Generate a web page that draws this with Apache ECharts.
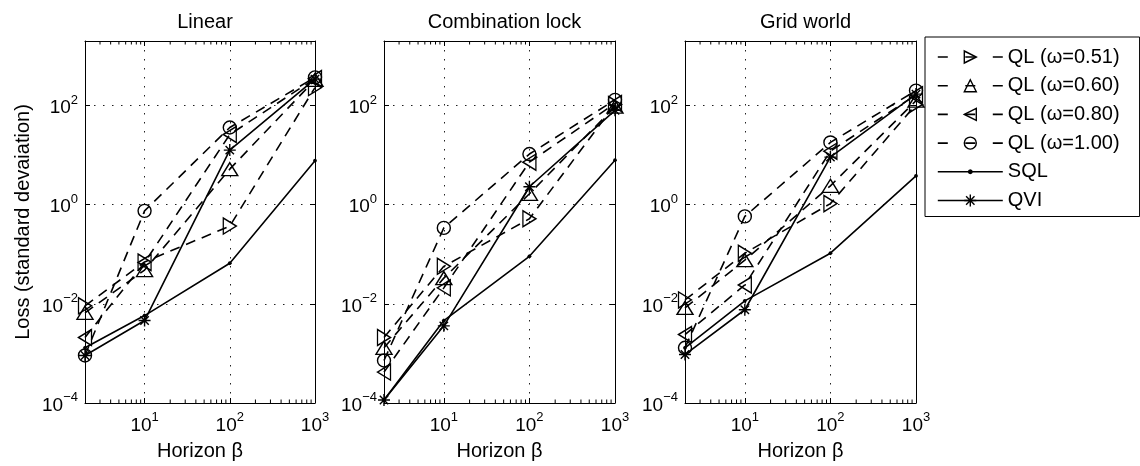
<!DOCTYPE html>
<html><head><meta charset="utf-8">
<script src="https://cdn.jsdelivr.net/npm/echarts@6.0.0/dist/echarts.min.js"></script>
<style>html,body{margin:0;padding:0;background:#fff}#c{width:1140px;height:466px}</style>
</head><body><div id="c"></div>
<script>
// ---- data ----
const horizons = [2, 10, 100, 1000];
const panelTitles = ['Linear', 'Combination lock', 'Grid world'];
const seriesNames = ['QL (ω=0.51)', 'QL (ω=0.60)', 'QL (ω=0.80)', 'QL (ω=1.00)', 'SQL', 'QVI'];

const linearQL051 = [0.0091, 0.070, 0.37, 230];
const linearQL060 = [0.0066, 0.048, 5.2, 330];
const linearQL080 = [0.0021, 0.068, 26, 350];
const linearQL100 = [0.00091, 0.75, 36, 370];
const linearSQL   = [0.0013, 0.0058, 0.066, 7.7];
const linearQVI   = [0.00091, 0.0046, 12.6, 340];

const comboQL051 = [0.0021, 0.057, 0.52, 105];
const comboQL060 = [0.0013, 0.033, 1.66, 95];
const comboQL080 = [0.00042, 0.021, 7.2, 110];
const comboQL100 = [0.00072, 0.34, 10.5, 130];
const comboSQL   = [0.000115, 0.0046, 0.091, 7.9];
const comboQVI   = [0.000115, 0.0036, 2.3, 80];

const gridQL051 = [0.012, 0.105, 1.05, 105];
const gridQL060 = [0.0083, 0.076, 2.4, 125];
const gridQL080 = [0.0024, 0.024, 12, 165];
const gridQL100 = [0.0013, 0.58, 18, 200];
const gridSQL   = [0.0013, 0.0115, 0.105, 3.8];
const gridQVI   = [0.00095, 0.0076, 9.1, 170];

const xMin = 2, xMax = 1000, yMin = 1e-4, yMax = 2000;
const xMinorTicks = [3,4,5,6,7,8,9,20,30,40,50,60,70,80,90,200,300,400,500,600,700,800,900];

const panelData = [
  [linearQL051, linearQL060, linearQL080, linearQL100, linearSQL, linearQVI],
  [comboQL051, comboQL060, comboQL080, comboQL100, comboSQL, comboQVI],
  [gridQL051, gridQL060, gridQL080, gridQL100, gridSQL, gridQVI]
];

// ---- styles ----
const FONT = 'Liberation Sans, Arial, Helvetica, sans-serif';
const grids = [
  {left: 85, top: 41, width: 230, height: 365},
  {left: 384, top: 41, width: 231, height: 365},
  {left: 685, top: 41, width: 231, height: 365}
];
const DASH = [10, 7];
const ASTERISK = 'path://M5,0L5,10M0,5L10,5M1.5,1.5L8.5,8.5M8.5,1.5L1.5,8.5';
const DOT = 'path://M0,0M20,20M7,10L7.9,7.9L10,7L12.1,7.9L13,10L12.1,12.1L10,13L7.9,12.1Z';
const seriesStyle = [
  {symbol: 'triangle', rotate: -90, size: [16, 13], dashed: true},
  {symbol: 'triangle', rotate: 0, size: [16, 13], dashed: true},
  {symbol: 'triangle', rotate: 90, size: [16, 13], dashed: true},
  {symbol: 'circle', rotate: 0, size: 13, dashed: true},
  {symbol: DOT, rotate: 0, size: 13, dashed: false, filled: true},
  {symbol: ASTERISK, rotate: 0, size: 12, dashed: false}
];

const rich = {
  b: {fontSize: 19, fontFamily: FONT, color: '#000', lineHeight: 24, verticalAlign: 'bottom'},
  s: {fontSize: 13, fontFamily: FONT, color: '#000', lineHeight: 8, verticalAlign: 'top'}
};
function powLabel(v) {
  const e = Math.log10(v);
  const r = Math.round(e);
  if (Math.abs(e - r) > 1e-6) return '';
  return '{b|10}{s|' + (r < 0 ? '\u2212' + (-r) : r) + '}';
}

const xAxes = [], yAxes = [], series = [];
grids.forEach((g, gi) => {
  xAxes.push({
    type: 'log', logBase: 10, gridIndex: gi, min: xMin, max: xMax, position: 'bottom',
    name: 'Horizon β', nameLocation: 'middle', nameGap: 38,
    nameTextStyle: {fontSize: 20, fontFamily: FONT, color: '#000'},
    axisLine: {show: true, lineStyle: {color: '#000', width: 1}},
    axisTick: {show: true, inside: true, length: 5, lineStyle: {color: '#000'}},
    axisLabel: {show: true, margin: 8, formatter: powLabel, rich: rich, showMinLabel: true, showMaxLabel: true},
    splitLine: {show: true, lineStyle: {color: '#222', width: 1, type: [1.5, 7.5]}},
    minorTick: {show: false}
  });
  xAxes.push({
    type: 'log', logBase: 10, gridIndex: gi, min: xMin, max: xMax, position: 'top',
    axisLine: {show: true, lineStyle: {color: '#000', width: 1}},
    axisTick: {show: true, inside: true, length: 5, lineStyle: {color: '#000'}},
    axisLabel: {show: false}, splitLine: {show: false}
  });
  yAxes.push({
    type: 'log', logBase: 100, gridIndex: gi, min: yMin, max: yMax, position: 'left',
    name: gi === 0 ? 'Loss (standard devaiation)' : '', nameLocation: 'middle', nameGap: 52,
    nameTextStyle: {fontSize: 20, fontFamily: FONT, color: '#000'},
    axisLine: {show: true, lineStyle: {color: '#000', width: 1}},
    axisTick: {show: true, inside: true, length: 5, lineStyle: {color: '#000'}},
    axisLabel: {show: true, margin: 7, formatter: powLabel, rich: rich, showMinLabel: true, showMaxLabel: true},
    splitLine: {show: true, lineStyle: {color: '#222', width: 1, type: [1.5, 7.5]}}
  });
  yAxes.push({
    type: 'log', logBase: 100, gridIndex: gi, min: yMin, max: yMax, position: 'right',
    axisLine: {show: true, lineStyle: {color: '#000', width: 1}},
    axisTick: {show: true, inside: true, length: 5, lineStyle: {color: '#000'}},
    axisLabel: {show: false}, splitLine: {show: false}
  });

  // minor x ticks (bottom and top edges)
  series.push({
    type: 'custom', xAxisIndex: gi * 2, yAxisIndex: gi * 2, silent: true, z: 3,
    data: xMinorTicks.map(v => [v, yMin]),
    renderItem: (params, api) => {
      const b = api.coord([api.value(0), yMin]);
      const t = api.coord([api.value(0), yMax]);
      const st = {stroke: '#000', lineWidth: 1};
      return {type: 'group', children: [
        {type: 'line', shape: {x1: b[0], y1: b[1], x2: b[0], y2: b[1] - 3.5}, style: st},
        {type: 'line', shape: {x1: t[0], y1: t[1], x2: t[0], y2: t[1] + 3.5}, style: st}
      ]};
    }
  });

  panelData[gi].forEach((vals, si) => {
    const s = seriesStyle[si];
    series.push({
      type: 'line', name: seriesNames[si], xAxisIndex: gi * 2, yAxisIndex: gi * 2,
      data: horizons.map((h, i) => [h, vals[i]]),
      symbol: s.symbol, symbolRotate: s.rotate, symbolSize: s.size, showSymbol: true,
      lineStyle: {color: '#000', width: 1.6, type: s.dashed ? DASH : 'solid'},
      itemStyle: {color: s.filled ? '#000' : 'rgba(0,0,0,0)', borderColor: '#000', borderWidth: s.filled ? 0 : 1.4},
      emphasis: {disabled: true}, z: 5, animation: false
    });
  });
});

const chart = echarts.init(document.getElementById('c'), null, {renderer: 'canvas'});
chart.setOption({
  backgroundColor: '#fff',
  animation: false,
  title: panelTitles.map((t, i) => ({
    text: t, left: grids[i].left + grids[i].width / 2, top: 7, textAlign: 'center',
    textStyle: {fontSize: 20, fontWeight: 'normal', fontFamily: FONT, color: '#000'}
  })),
  grid: grids.map(g => Object.assign({show: false}, g)),
  xAxis: xAxes,
  yAxis: yAxes,
  legend: {
    orient: 'vertical', left: 925, top: 37, selectedMode: false,
    padding: [10, 20, 6, 12], itemGap: 8.7, itemWidth: 65, itemHeight: 15,
    backgroundColor: '#fff', borderColor: '#000', borderWidth: 1, borderRadius: 0,
    textStyle: {fontSize: 20, fontFamily: FONT, color: '#000', lineHeight: 20},
    lineStyle: {width: 1.6, color: '#000'},
    itemStyle: {borderWidth: 1.4, borderColor: '#000'},
    data: seriesNames.map((n, i) => seriesStyle[i].dashed
      ? {name: n, lineStyle: {type: [10, 17.5]}}
      : {name: n})
  },
  series: series
});
</script></body></html>
